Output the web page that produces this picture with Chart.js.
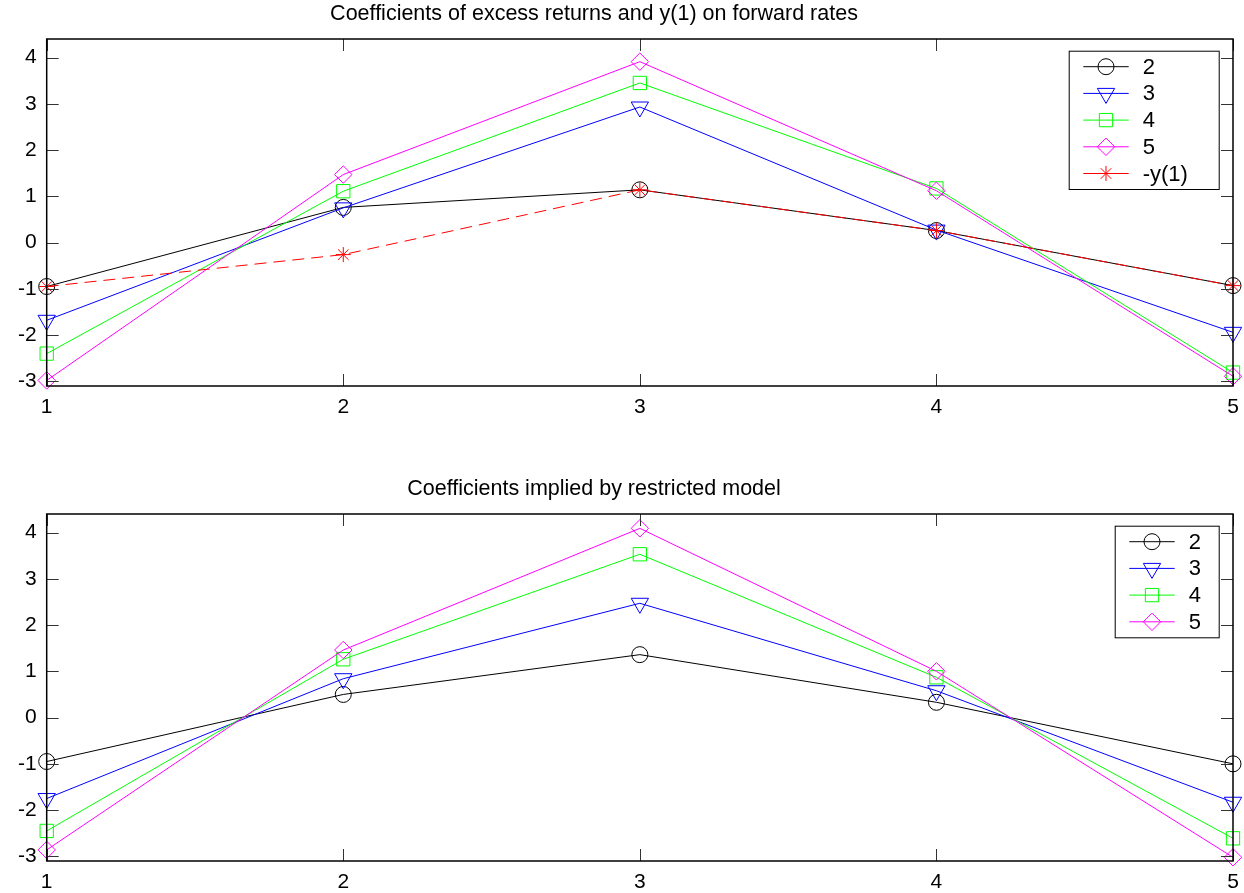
<!DOCTYPE html>
<html>
<head>
<meta charset="utf-8">
<script src="https://cdn.jsdelivr.net/npm/chart.js@4.4.1/dist/chart.umd.min.js"></script>
<style>
    html, body { margin: 0; padding: 0; background: #fff; overflow: hidden; }
    #wrap { position: relative; width: 1244px; height: 893px; overflow: hidden; }
    .panel { position: absolute; left: 0; width: 1244px; height: 430px; }
</style>
</head>
<body>
<div id="wrap">
    <div class="panel" style="top:0px"><canvas id="topChart"></canvas></div>
    <div class="panel" style="top:475px"><canvas id="bottomChart"></canvas></div>
</div>
<script>
// x positions (maturities) and axis ticks
const maturities = [1, 2, 3, 4, 5];
const yTicks = [-3, -2, -1, 0, 1, 2, 3, 4];

// top panel: unrestricted coefficients
const top2 = [-0.95, 0.76, 1.14, 0.26, -0.93];
const top3 = [-1.68, 0.75, 2.93, 0.27, -1.94];
const top4 = [-2.40, 1.11, 3.45, 1.17, -2.81];
const top5 = [-2.98, 1.47, 3.91, 1.12, -2.89];
const topNegY1 = [-0.95, -0.26, 1.14, 0.26, -0.93];

// bottom panel: restricted model
const bot2 = [-0.95, 0.50, 1.36, 0.33, -1.00];
const bot3 = [-1.75, 0.84, 2.47, 0.58, -1.83];
const bot4 = [-2.45, 1.26, 3.53, 0.87, -2.61];
const bot5 = [-2.86, 1.46, 4.09, 1.00, -3.02];

const FONT = '"Liberation Sans", Arial, sans-serif';

const styles = {
    '2':     { color: '#000000', pointStyle: 'circle',   radius: 8,   rotation: 0 },
    '3':     { color: '#0000ff', pointStyle: 'triangle', radius: 10,  rotation: 180 },
    '4':     { color: '#00ff00', pointStyle: 'rect',     radius: 9.4, rotation: 0 },
    '5':     { color: '#ff00ff', pointStyle: 'rectRot',  radius: 8.7, rotation: 0 },
    '-y(1)': { color: '#ff0000', pointStyle: 'star',     radius: 7.5, rotation: 0, dash: [12, 7] }
};

function makeDataset(label, values, idx) {
    const s = styles[label];
    return {
        label: label,
        data: maturities.map((m, i) => ({ x: m, y: values[i] })),
        borderColor: s.color,
        backgroundColor: 'rgba(0,0,0,0)',
        borderWidth: 1,
        borderDash: s.dash || [],
        pointStyle: s.pointStyle,
        pointRadius: s.radius,
        pointRotation: s.rotation,
        pointBorderColor: s.color,
        pointBackgroundColor: 'rgba(0,0,0,0)',
        pointBorderWidth: 1,
        tension: 0,
        clip: false,
        order: 10 - idx
    };
}

// title, frame, inward ticks (both sides) and an in-axes legend, MATLAB style
const boxPlugin = {
    id: 'matlabBox',
    afterDraw(chart, args, opts) {
        const ctx = chart.ctx;
        const a = chart.chartArea;
        const xs = chart.scales.x, ys = chart.scales.y;
        ctx.save();
        ctx.setLineDash([]);

        // title
        ctx.fillStyle = '#000';
        ctx.font = '21.5px ' + FONT;
        ctx.textAlign = 'center';
        ctx.textBaseline = 'middle';
        ctx.fillText(opts.title, opts.titleX, 14);

        // ticks
        ctx.strokeStyle = '#333';
        ctx.lineWidth = 1;
        ctx.beginPath();
        yTicks.forEach(v => {
            const y = Math.round(ys.getPixelForValue(v)) + 0.5;
            ctx.moveTo(a.left, y); ctx.lineTo(a.left + 12, y);
            ctx.moveTo(a.right, y); ctx.lineTo(a.right - 12, y);
        });
        maturities.forEach(v => {
            const x = Math.round(xs.getPixelForValue(v)) + 0.5;
            ctx.moveTo(x, a.bottom); ctx.lineTo(x, a.bottom - 12);
            ctx.moveTo(x, a.top); ctx.lineTo(x, a.top + 12);
        });
        ctx.stroke();
        // frame
        ctx.strokeStyle = '#000';
        ctx.lineWidth = 1.5;
        ctx.strokeRect(a.left, a.top, a.right - a.left, a.bottom - a.top);

        // legend
        const items = chart.data.datasets.map(d => d.label);
        const rowH = 26.7;
        const bw = opts.width;
        const bh = 31.5 + (items.length - 1) * rowH;
        const bx = a.right - 14.3 - bw;
        const by = a.top + 11.7;
        ctx.fillStyle = '#fff';
        ctx.fillRect(bx, by, bw, bh);
        ctx.strokeStyle = '#000';
        ctx.lineWidth = 1;
        ctx.strokeRect(bx + 0.5, by + 0.5, bw, bh);
        ctx.font = '22px ' + FONT;
        ctx.textBaseline = 'middle';
        ctx.textAlign = 'left';
        items.forEach((lab, i) => {
            const s = styles[lab];
            const cy = by + 16 + i * rowH;
            ctx.strokeStyle = s.color;
            ctx.lineWidth = 1;
            ctx.beginPath();
            ctx.moveTo(bx + 14.6, cy); ctx.lineTo(bx + 60, cy);
            ctx.stroke();
            ctx.fillStyle = 'rgba(0,0,0,0)';
            Chart.helpers.drawPoint(ctx, {
                pointStyle: s.pointStyle, radius: s.radius, rotation: s.rotation, borderWidth: 1
            }, bx + 37.3, cy);
            ctx.fillStyle = '#000';
            ctx.fillText(lab, bx + 74, cy + 1);
        });
        ctx.restore();
    }
};

function makeChart(id, title, datasets, legendWidth) {
    return new Chart(document.getElementById(id), {
        type: 'line',
        data: { datasets: datasets },
        plugins: [boxPlugin],
        options: {
            responsive: true,
            maintainAspectRatio: false,
            animation: false,
            devicePixelRatio: 1,
            layout: { padding: { left: 0, right: 7, top: 39, bottom: 0 } },
            plugins: {
                legend: { display: false },
                tooltip: { enabled: false },
                title: { display: false },
                matlabBox: { width: legendWidth, title: title, titleX: 594 }
            },
            scales: {
                x: {
                    type: 'linear',
                    min: 1,
                    max: 5,
                    grid: { display: false, drawTicks: false },
                    border: { display: false },
                    ticks: {
                        color: '#000',
                        font: { family: FONT, size: 21 },
                        padding: 9,
                        maxRotation: 0
                    },
                    afterBuildTicks: s => { s.ticks = maturities.map(v => ({ value: v })); },
                    afterFit: s => { s.height = 44; s.paddingLeft = 0; s.paddingRight = 0; }
                },
                y: {
                    min: -3.1,
                    max: 4.4,
                    grid: { display: false, drawTicks: false },
                    border: { display: false },
                    ticks: {
                        color: '#000',
                        font: { family: FONT, size: 21 },
                        padding: 10
                    },
                    afterBuildTicks: s => { s.ticks = yTicks.map(v => ({ value: v })); },
                    afterFit: s => { s.width = 46.7; s.paddingTop = 0; s.paddingBottom = 0; }
                }
            }
        }
    });
}

makeChart('topChart', 'Coefficients of excess returns and y(1) on forward rates', [
    makeDataset('2', top2, 0),
    makeDataset('3', top3, 1),
    makeDataset('4', top4, 2),
    makeDataset('5', top5, 3),
    makeDataset('-y(1)', topNegY1, 4)
], 150);

makeChart('bottomChart', 'Coefficients implied by restricted model', [
    makeDataset('2', bot2, 0),
    makeDataset('3', bot3, 1),
    makeDataset('4', bot4, 2),
    makeDataset('5', bot5, 3)
], 104);
</script>
</body>
</html>
